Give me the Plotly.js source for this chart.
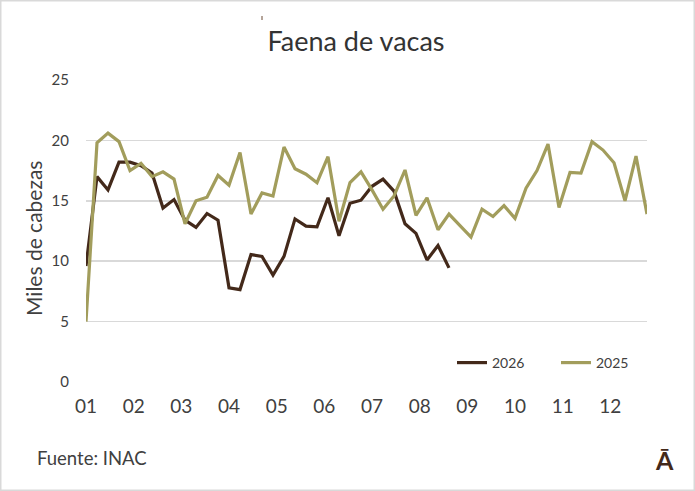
<!DOCTYPE html>
<html>
<head>
<meta charset="utf-8">
<script src="https://cdn.plot.ly/plotly-3.0.1.min.js"></script>
<style>
html,body{margin:0;padding:0;background:#fff;}
#chart{width:695px;height:491px;}
</style>
</head>
<body>
<div id="chart"></div>
<script>
// Weekly slaughter of cows (thousand head)
const monthLabels = ["01","02","03","04","05","06","07","08","09","10","11","12"];
const values2026 = [9.6,17.0,15.9,18.2,18.2,17.9,17.3,14.4,15.1,13.4,12.8,13.95,13.4,7.8,7.65,10.55,10.4,8.85,10.4,13.5,12.9,12.85,15.25,12.1,14.8,15.05,16.2,16.8,15.8,13.1,12.3,10.1,11.3,9.45];
const values2025 = [5.0,19.8,20.6,19.9,17.5,18.1,17.0,17.4,16.8,13.1,15.0,15.3,17.1,16.3,19.0,13.9,15.65,15.4,19.45,17.65,17.2,16.5,18.65,13.3,16.5,17.4,15.9,14.3,15.4,17.55,13.8,15.25,12.6,13.9,12.95,12.0,14.3,13.7,14.6,13.55,16.05,17.5,19.7,14.45,17.35,17.3,19.9,19.2,18.15,15.0,18.7,13.9];
const yTicks = [0,5,10,15,20,25];

const weeks2026 = values2026.map((_, i) => i);
const weeks2025 = values2025.map((_, i) => i);
const nWeeks = values2025.length;
const monthPos = monthLabels.map((_, i) => i * nWeeks / 12);

const FONT = "Lato, 'Open Sans', sans-serif";
const W = 695, H = 491, L = 86, R = 48, T = 80, B = 109;
const pw = W - L - R, ph = H - T - B;
const px = x => (x - L) / pw;
const py = y => (H - B - y) / ph;

const traces = [
  {x: weeks2026, y: values2026, name: "2026", type: "scatter", mode: "lines",
   line: {color: "#43291a", width: 3.2}},
  {x: weeks2025, y: values2025, name: "2025", type: "scatter", mode: "lines",
   line: {color: "#a29d5c", width: 3.2}}
];

const layout = {
  width: W, height: H,
  margin: {l: L, r: R, t: T, b: B},
  paper_bgcolor: "#ffffff", plot_bgcolor: "#ffffff",
  font: {family: FONT, color: "#404040"},
  showlegend: true,
  title: {text: "Faena de vacas", font: {size: 27, color: "#333333", family: FONT},
          x: 356 / W, xref: "container", xanchor: "center",
          y: 1 - 42 / H, yref: "container", yanchor: "middle"},
  xaxis: {range: [0, nWeeks - 1], tickmode: "array", tickvals: monthPos, ticktext: monthLabels,
          showgrid: false, zeroline: false, showline: false, ticks: "",
          tickfont: {size: 19, color: "#404040"}, ticklabelstandoff: 11, fixedrange: true},
  yaxis: {range: [0, 25], tickmode: "array", tickvals: yTicks,
          showgrid: true, gridcolor: "#d9d9d9", gridwidth: 1.5, zeroline: false, showline: false,
          ticks: "", tickfont: {size: 15, color: "#404040"}, ticklabelstandoff: 16,
          fixedrange: true},
  legend: {orientation: "h", x: px(452), xanchor: "left", y: py(363), yanchor: "middle",
           font: {size: 14, color: "#404040"}, bgcolor: "rgba(0,0,0,0)",
           entrywidth: 59, entrywidthmode: "pixels", itemwidth: 30},
  annotations: [
    {text: "Miles de cabezas", xref: "paper", yref: "paper", x: px(33), y: py(239),
     xanchor: "center", yanchor: "middle", textangle: -90, showarrow: false,
     font: {size: 21, color: "#404040", family: FONT}},
    {text: "Fuente: INAC", xref: "paper", yref: "paper", x: px(35), y: py(458),
     xanchor: "left", yanchor: "middle", showarrow: false,
     font: {size: 18.5, color: "#404040", family: FONT}},
    {text: "<b>Ā</b>", xref: "paper", yref: "paper", x: px(664), y: py(460),
     xanchor: "center", yanchor: "middle", showarrow: false,
     font: {size: 25, color: "#43291a", family: FONT}}
  ],
  shapes: [
    {type: "rect", xref: "paper", yref: "paper", x0: px(0.75), x1: px(694.25), y0: py(490.25), y1: py(0.75),
     line: {color: "#d9d9d9", width: 1.5}, fillcolor: "rgba(0,0,0,0)", layer: "below"},
    {type: "line", xref: "paper", yref: "paper", x0: px(262), x1: px(262), y0: py(20), y1: py(16),
     line: {color: "#6b4a35", width: 1}}
  ]
};

Plotly.newPlot("chart", traces, layout, {displayModeBar: false, staticPlot: true});
</script>
</body>
</html>
